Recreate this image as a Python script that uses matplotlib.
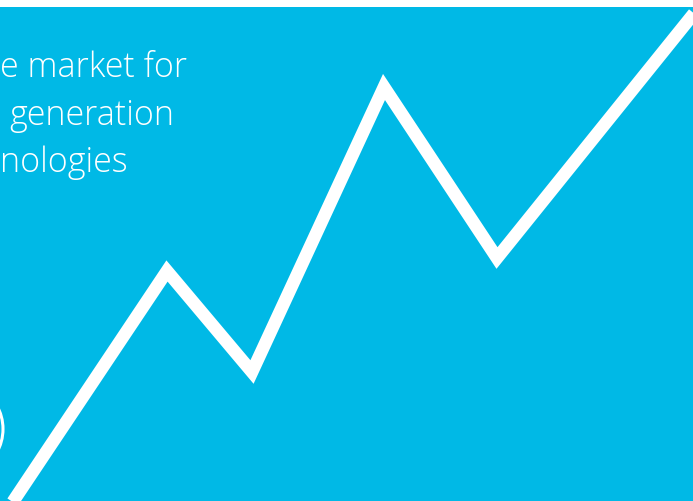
import matplotlib
matplotlib.use("Agg")
import matplotlib.pyplot as plt
from matplotlib.patches import Rectangle, Arc

# Data (pixel-space path of the zigzag line)
line_x = [-8, 167, 252, 384, 497, 712]
line_y = [534, 272, 373, 88, 259, -8]
text_lines = ["e market for", "generation", "nologies"]
text_x = [0, 9, 0]
text_y = [77, 125, 172]

BG = "#00B9E6"

fig = plt.figure(figsize=(6.93, 5.02), dpi=100)
ax = fig.add_axes([0, 0, 1, 1])
ax.set_xlim(0, 693)
ax.set_ylim(502, 0)
ax.axis("off")
fig.patch.set_facecolor("white")

ax.add_patch(Rectangle((0, 8), 693, 494, facecolor=BG, edgecolor="none", zorder=0))

ax.plot(line_x, line_y, color="white", linewidth=9.2, solid_joinstyle="miter",
        solid_capstyle="butt", zorder=2)

ax.add_patch(Arc((-45, 430), 96, 96, theta1=-60, theta2=60, color="white",
                 linewidth=2.2, zorder=2))

for t, x, y in zip(text_lines, text_x, text_y):
    ax.text(x, y, t, color="white", fontsize=24.5, fontfamily="Open Sans",
            fontweight="light", ha="left", va="baseline", zorder=3)

fig.savefig("out.png", dpi=100, facecolor="white")
